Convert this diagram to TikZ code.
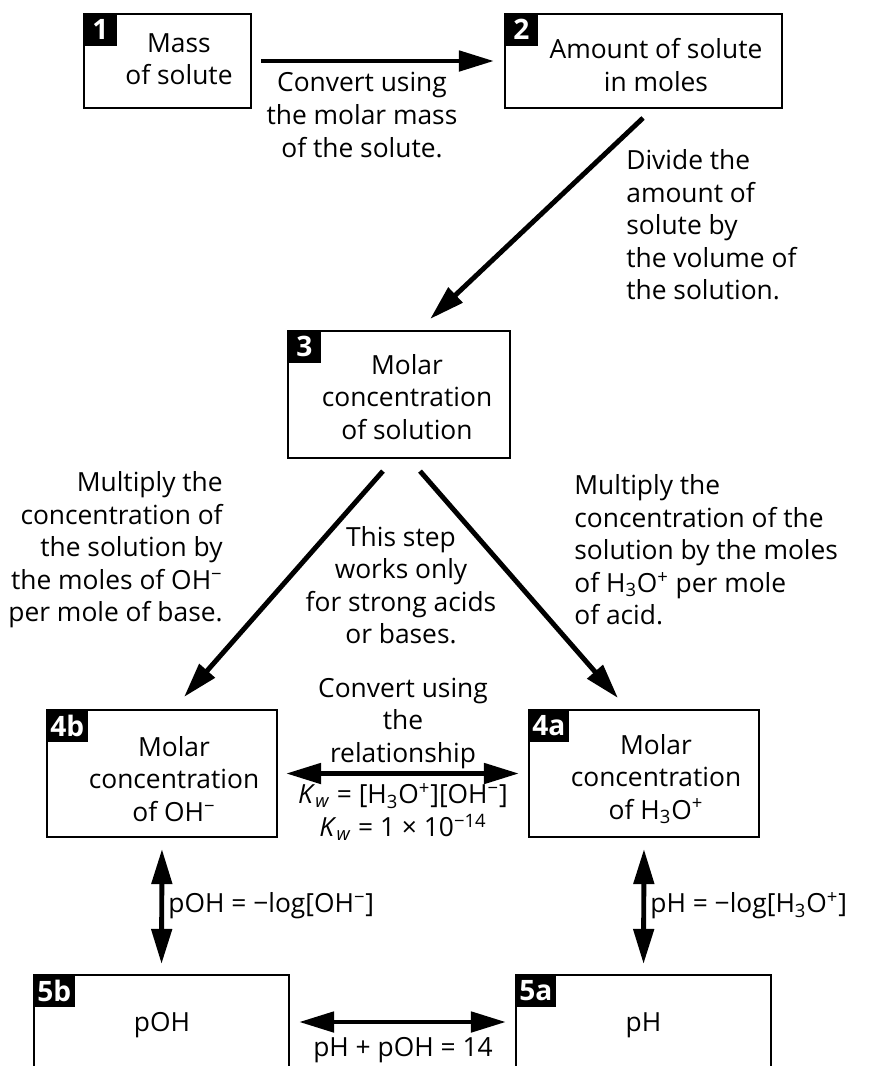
\documentclass[tikz,border=0pt]{standalone}
\usepackage{fontspec}
\setmainfont{Open Sans}
\usetikzlibrary{arrows.meta,positioning}
\tikzset{box/.style={draw, line width=1.2pt, inner sep=0pt}}
\tikzset{tag/.style={fill=black, text=white, font=\fontsize{16}{18}\selectfont\bfseries, anchor=north west, inner xsep=0.08cm, inner ysep=0pt, minimum height=0.66cm, minimum width=0.68cm}}
\tikzset{txt/.style={align=center, inner sep=0pt}}
\tikzset{arr/.style={draw, line width=2.8pt, -{Triangle[length=0.7cm,width=0.4cm]}}}
\tikzset{darr/.style={arr, {Triangle[length=0.7cm,width=0.4cm]}-{Triangle[length=0.7cm,width=0.4cm]}}}
\newcommand{\ohm}{OH\textsuperscript{−}}
\newcommand{\hyd}{H\textsubscript{3}O\textsuperscript{+}}

\begin{document}
\begin{tikzpicture}[font=\fontsize{15}{18.5}\selectfont]
		\useasboundingbox (0,0) rectangle (17.44,-21.32);

		% boxes
		\node[box, minimum width=3.34cm, minimum height=1.88cm] (b1) at (3.35,-1.22){};
		\node[box, minimum width=5.54cm, minimum height=1.88cm] (b2) at (12.87,-1.22){};
		\node[box, minimum width=4.44cm, minimum height=2.54cm] (b3) at (7.98,-7.89){};
		\node[box, minimum width=4.6cm, minimum height=2.54cm] (b4b) at (3.24,-15.47){};
		\node[box, minimum width=4.6cm, minimum height=2.54cm] (b4a) at (12.88,-15.47){};
		\node[box, minimum width=5.1cm, minimum height=1.88cm] (b5b) at (3.23,-20.44){};
		\node[box, minimum width=5.1cm, minimum height=1.88cm] (b5a) at (12.87,-20.44){};

		\node[tag] (n1) at (b1.north west){1};
		\node[tag] (n2) at (b2.north west){2};
		\node[tag] (n3) at (b3.north west){3};
		\node[tag] (n4b) at (b4b.north west){4b};
		\node[tag] (n4a) at (b4a.north west){4a};
		\node[tag] (n5b) at (b5b.north west){5b};
		\node[tag] (n5a) at (b5a.north west){5a};

		\node[txt] (t1) at (3.58,-1.18){Mass\\of solute};
		\node[txt] (t2) at (13.12,-1.30){Amount of solute\\in moles};
		\node[txt] (t3) at (8.14,-7.94){Molar\\concentration\\of solution};
		\node[txt] (t4b) at (3.48,-15.58){Molar\\concentration\\of \ohm};
		\node[txt] (t4a) at (13.12,-15.58){Molar\\concentration\\of \hyd};
		\node[txt] (t5b) at (3.24,-20.5){pOH};
		\node[txt] (t5a) at (12.87,-20.5){pH};

		% steps
		\draw[arr, shorten <=0.18cm, shorten >=0.2cm] (b1.east) -- (b2.west);
		\node[txt] (s12) at (7.24,-2.30){Convert using\\the molar mass\\of the solute.};

		\draw[arr, shorten <=0.26cm, shorten >=0.32cm] ([xshift=0.18cm]b2.south) -- ([xshift=0.39cm]b3.north);
		\node[txt, align=left, anchor=west] (s23) at (12.52,-4.5){Divide the\\amount of\\solute by\\the volume of\\the solution.};

		\draw[arr, shorten <=0.32cm, shorten >=0.32cm] ([xshift=-0.11cm]b3.south) -- ([xshift=0.23cm]b4b.north);
		\draw[arr, shorten <=0.32cm, shorten >=0.29cm] ([xshift=0.21cm]b3.south) -- ([xshift=-0.33cm]b4a.north);
		\node[txt, align=right, anchor=east] (s3b) at (4.46,-11.0){Multiply the\\concentration of\\the solution by\\the moles of \ohm\\per mole of base.};
		\node[txt] (s3m) at (8.02,-11.7){This step\\works only\\for strong acids\\or bases.};
		\node[txt, align=left, anchor=west] (s3a) at (11.48,-11.0){Multiply the\\concentration of the\\solution by the moles\\of \hyd{} per mole\\of acid.};

		\draw[darr, shorten <=0.16cm, shorten >=0.18cm] (b4b.east) -- (b4a.west);
		\node[txt] (s44) at (8.06,-14.46){Convert using\\the\\relationship};
		\node[txt] (kw) at (8.06,-16.24){\textit{K}\textsubscript{\textit{w}} = [\hyd][\ohm]\\\textit{K}\textsubscript{\textit{w}} = 1 × 10\textsuperscript{−14}};

		\draw[darr, shorten <=0.22cm, shorten >=0.2cm] (b4b.south) -- (b5b.north);
		\draw[darr, shorten <=0.22cm, shorten >=0.2cm] (b4a.south) -- (b5a.north);
		\node[txt, anchor=west] (s5b) at (3.36,-18.12){pOH = −log[\ohm]};
		\node[txt, anchor=west] (s5a) at (13.0,-18.12){pH = −log[\hyd]};

		\draw[darr, shorten <=0.18cm, shorten >=0.18cm] (b5b.east) -- (b5a.west);
		\node[txt] (s55) at (8.06,-21.0){pH + pOH = 14};
	\end{tikzpicture}
\end{document}
